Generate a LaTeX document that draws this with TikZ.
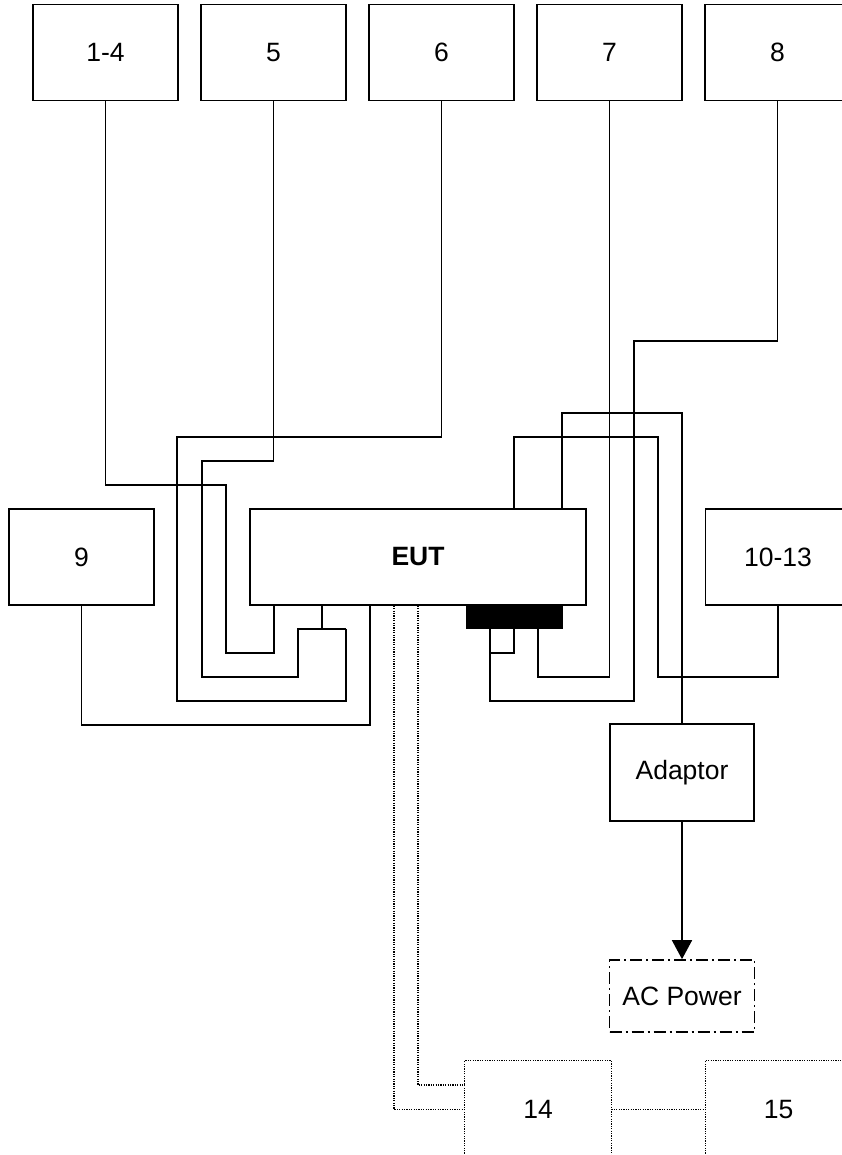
\documentclass[tikz,border=0pt]{standalone}
\usepackage{fontspec}
\setmainfont{Liberation Sans}
\usetikzlibrary{arrows.meta}
\begin{document}
\begin{tikzpicture}[x=1pt,y=-1pt,
    box/.style={draw,line width=1.7pt,inner sep=0pt,minimum width=145pt,minimum height=96pt,
      font=\fontsize{26.5}{30}\selectfont},
    dotbox/.style={box,draw=none},
    cable/.style={line width=1.7pt},
    dotcable/.style={line width=1.3pt,dash pattern=on 1.2pt off 1.2pt}]
    \useasboundingbox (0,0) rectangle (842,1155);
    % units
    \node[box] (u14) at (105.5,52.5) {1-4};
    \node[box] (u5)  at (273.5,52.5) {5};
    \node[box] (u6)  at (441.5,52.5) {6};
    \node[box] (u7)  at (609.5,52.5) {7};
    \node[box] (u8)  at (777.5,52.5) {8};
    \node[box] (u9)  at (81.5,557) {9};
    \node[box] (u1013) at (778,557) {10-13};
    \node[box,minimum width=336pt,font=\fontsize{26.5}{30}\selectfont\bfseries] (eut) at (418,557) {EUT};
    \node[fill=black,inner sep=0pt,minimum width=97pt,minimum height=24pt] (port) at (514.5,617) {};
    \node[box,minimum width=144pt,minimum height=97pt] (adaptor) at (682,772.5) {Adaptor};
    \node[box,minimum height=72pt,dash pattern=on 12pt off 4pt on 2pt off 4pt] (ac) at (682,996) {AC Power};
    \node[dotbox] (u14b) at (538,1109.5) {14};
    \node[dotbox] (u15)  at (778.5,1109.5) {15};
    \draw[dotcable] (u14b.south west) -- (u14b.north west) -- (u14b.north east) -- (u14b.south east);
    \draw[dotcable] (u15.south west) -- (u15.north west) -- (u15.north east);
    % define point
    \coordinate (a1) at (226,485);
    \coordinate (a2) at (274,653);
    \coordinate (b1) at (202,461);
    \coordinate (b2) at (298,677);
    \coordinate (j1) at (298,629);
    \coordinate (j2) at (346,629);
    \coordinate (j3) at (322,629);
    \coordinate (c1) at (177,437);
    \coordinate (c2) at (346,701);
    \coordinate (d1) at (370,725);
    \coordinate (e1) at (538,677);
    \coordinate (f1) at (634,341);
    \coordinate (f2) at (490,701);
    \coordinate (k1) at (490,653);
    \coordinate (k2) at (514,653);
    \coordinate (g1) at (562,413);
    \coordinate (g2) at (682,413);
    \coordinate (h1) at (514,437);
    \coordinate (h2) at (658,677);
    \coordinate (m1) at (394,1109.5);
    \coordinate (n1) at (418,1085);
    % cables
    \draw[cable] (u14.south) |- (a1) |- (a2) -- (eut.south -| a2);
    \draw[cable] (u5.south) |- (b1) |- (b2) -- (j1) -- (j2);
    \draw[cable] (j3) -- (eut.south -| j3);
    \draw[cable] (u6.south) |- (c1) |- (c2) -- (j2);
    \draw[cable] (u9.south) |- (d1) -- (eut.south -| d1);
    \draw[cable] (u7.south) |- (e1) -- (port.south -| e1);
    \draw[cable] (u8.south) |- (f1) |- (f2) -- (port.south -| f2);
    \draw[cable] (k1) -- (k2) -- (port.south -| k2);
    \draw[cable] (eut.north -| g1) -- (g1) -- (g2) -- (adaptor.north);
    \draw[cable] (eut.north -| h1) -- (h1) -| (h2) -| (u1013.south);
    \draw[cable,-{Triangle[length=19pt,width=20pt]}] (adaptor.south) -- (ac.north);
    % signal lines
    \draw[dotcable] (eut.south -| m1) -- (m1) -- (u14b.west);
    \draw[dotcable] (eut.south -| n1) -- (n1) -- (n1 -| u14b.west);
    \draw[dotcable] (u14b.east) -- (u15.west);
\end{tikzpicture}
\end{document}
